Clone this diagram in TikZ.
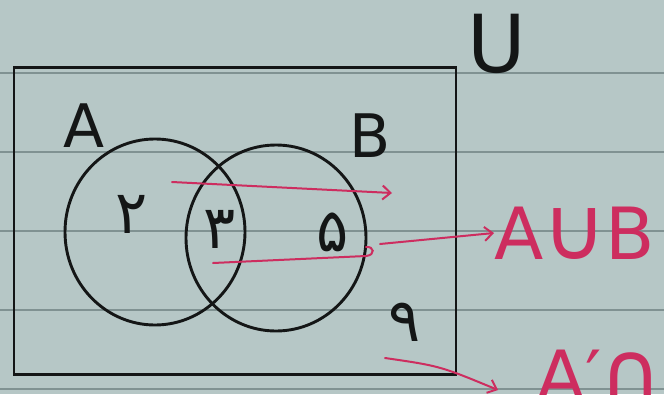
\documentclass[tikz,border=0pt]{standalone}
\usepackage{fontspec}
\setmainfont{DejaVu Sans}
\newfontfamily\arabicfont[Script=Arabic]{DejaVu Sans}
\TeXXeTstate=1
\usetikzlibrary{shapes.geometric,arrows.meta}
\definecolor{paper}{RGB}{182,199,198}
\definecolor{rulec}{RGB}{128,146,146}
\definecolor{ink}{RGB}{20,22,22}
\definecolor{pinkink}{RGB}{205,45,95}
\newcommand{\bigcupglyph}{{\fontsize{88}{88}\selectfont ∪}}
\newcommand{\bigcapglyph}{{\fontsize{86}{86}\selectfont ∩}}
\tikzset{
 pen/.style={draw=ink, line width=2.9pt},
 setcircle/.style={pen, ellipse, minimum width=180pt, minimum height=186pt, inner sep=0pt},
 lbl/.style={text=ink, font=\fontsize{60}{62}\selectfont, inner sep=0pt},
 digit/.style={text=ink, font=\arabicfont\fontsize{60}{64}\selectfont, inner sep=0pt},
 redline/.style={draw=pinkink, line width=2pt, line cap=round},
 redarrow/.style={redline, -{Straight Barb[length=8pt,width=14pt]}},
 redtxt/.style={text=pinkink, font=\fontsize{72}{76}\selectfont, inner sep=0pt},
 ruling/.style={draw=rulec, line width=1.5pt},
}
\begin{document}
\begin{tikzpicture}[x=1pt,y=-1pt]
\useasboundingbox (0,0) rectangle (664,394);
\clip (0,0) rectangle (664,394);
\fill[paper] (0,0) rectangle (664,394);
\foreach \yy in {73,152,231,310,389} \draw[ruling] (0,\yy) -- (664,\yy);
% universe box
\node[pen, minimum width=442pt, minimum height=307pt, inner sep=0pt] (box) at (235,221) {};
\node[text=ink, font=\fontsize{80}{84}\selectfont, inner sep=0pt] (U) at (497,44) {U};
% sets
\node[setcircle] (A) at (155,232) {};
\node[setcircle] (B) at (276,238) {};
\node[lbl] (Alab) at (84,126) {A};
\node[lbl] (Blab) at (370,136) {B};
% elements
\node[digit] (d2) at (132,214) {\beginR ۲\endR};
\node[digit] (d3) at (220,229) {\beginR ۳\endR};
\node[digit] (d5) at (333,232) {\beginR ۵\endR};
\node[digit] (d9) at (405,322) {\beginR ۹\endR};
% red annotations
\node[redtxt, anchor=west] (AUB) at (494,233) {A\kern-1pt\bigcupglyph\kern-1pt B};
\node[redtxt, anchor=north west] (AnB) at (536,350) {A′\kern-2pt\bigcapglyph B};
\coordinate (t1) at (172,182);
\coordinate (t2) at (392,193);
\draw[redarrow] (t1) -- (t2);
\coordinate (m1) at (213,263);
\coordinate (m2) at (366,256);
\coordinate (m3) at (380,244);
\draw[redline] (m1) -- (m2) .. controls (376,255) and (374,246) .. (366,247);
\draw[redarrow] (m3) -- (AUB.west);
\coordinate (b1) at (385,358);
\coordinate (b2) at (498,390);
\draw[redarrow] (b1) .. controls (440,366) .. (b2);
\end{tikzpicture}
\end{document}
